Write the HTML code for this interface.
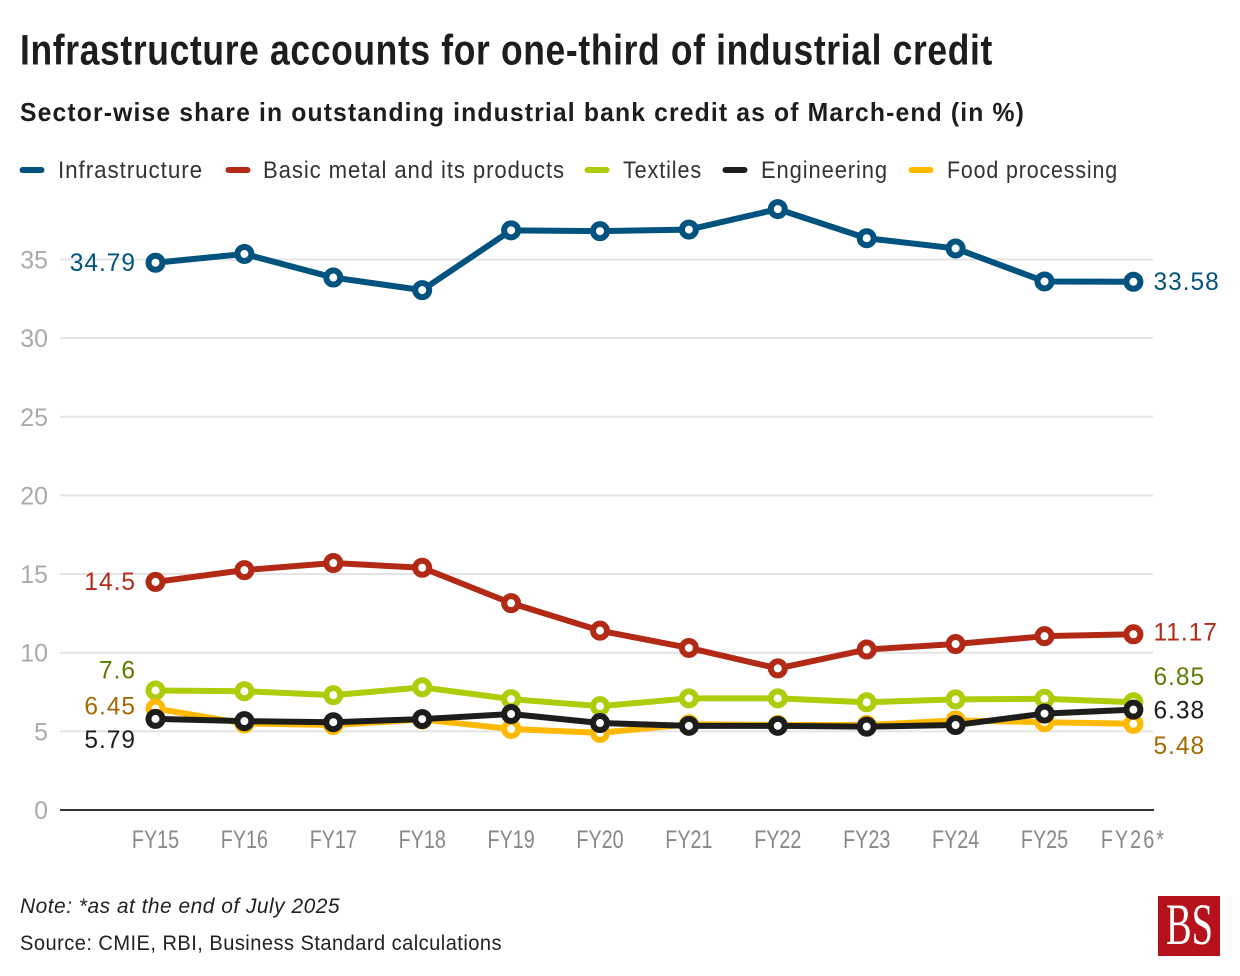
<!DOCTYPE html>
<html lang="en">
<head>
<meta charset="utf-8">
<title>Infrastructure accounts for one-third of industrial credit</title>
<style>
html,body{margin:0;padding:0;background:#fff;width:1240px;height:976px;overflow:hidden}
svg{display:block}
text{font-family:"Liberation Sans",sans-serif}
</style>
</head>
<body>
<svg id="chart" width="1240" height="976" viewBox="0 0 1240 976" xmlns="http://www.w3.org/2000/svg">
  <text x="20" y="64.5" font-size="43" font-weight="700" fill="#1d1d1b" letter-spacing="0.8" textLength="973" lengthAdjust="spacingAndGlyphs">Infrastructure accounts for one-third of industrial credit</text>
  <text x="20" y="121" font-size="26" font-weight="700" fill="#1d1d1b" letter-spacing="1.2" textLength="1005" lengthAdjust="spacingAndGlyphs">Sector-wise share in outstanding industrial bank credit as of March-end (in %)</text>

  <g font-size="24.5" fill="#333" letter-spacing="1">
    <line x1="22.5" x2="41.5" y1="170" y2="170" stroke="#00527f" stroke-width="6" stroke-linecap="round"/>
    <text x="58" y="178" textLength="145" lengthAdjust="spacingAndGlyphs">Infrastructure</text>
    <line x1="228.5" x2="247.5" y1="170" y2="170" stroke="#b22a16" stroke-width="6" stroke-linecap="round"/>
    <text x="263" y="178" textLength="302" lengthAdjust="spacingAndGlyphs">Basic metal and its products</text>
    <line x1="587.5" x2="606.5" y1="170" y2="170" stroke="#adcc0a" stroke-width="6" stroke-linecap="round"/>
    <text x="623" y="178" textLength="79" lengthAdjust="spacingAndGlyphs">Textiles</text>
    <line x1="725.5" x2="744.5" y1="170" y2="170" stroke="#1d1d1b" stroke-width="6" stroke-linecap="round"/>
    <text x="761" y="178" textLength="127" lengthAdjust="spacingAndGlyphs">Engineering</text>
    <line x1="911.5" x2="930.5" y1="170" y2="170" stroke="#ffb900" stroke-width="6" stroke-linecap="round"/>
    <text x="947" y="178" textLength="171" lengthAdjust="spacingAndGlyphs">Food processing</text>
  </g>

  <g id="grid"></g>
  <g id="ylabels"></g>
  <line x1="60" x2="1154" y1="810" y2="810" stroke="#333" stroke-width="2"/>
  <g id="xlabels"></g>
  <g id="series"></g>
  <g id="valueLabels"></g>

  <text x="20" y="913" font-size="21.5" font-style="italic" fill="#222" letter-spacing="0.5" textLength="320" lengthAdjust="spacingAndGlyphs">Note: *as at the end of July 2025</text>
  <text x="20" y="950" font-size="21.5" fill="#222" letter-spacing="0.5" textLength="482" lengthAdjust="spacingAndGlyphs">Source: CMIE, RBI, Business Standard calculations</text>

  <g>
    <rect x="1158" y="896" width="62" height="60" fill="#b5121b"/>
    <text x="1166" y="944" font-size="58" font-weight="400" fill="#fff" textLength="47" lengthAdjust="spacingAndGlyphs" style="font-family:'Liberation Serif',serif">BS</text>
  </g>
</svg>

<script>
const categories = ['FY15','FY16','FY17','FY18','FY19','FY20','FY21','FY22','FY23','FY24','FY25','FY26*'];
const yTicks = [0,5,10,15,20,25,30,35];
const infrastructure = [34.79,35.35,33.85,33.05,36.85,36.8,36.9,38.2,36.35,35.7,33.6,33.58];
const basicMetal = [14.5,15.25,15.7,15.4,13.15,11.4,10.3,9.0,10.2,10.55,11.05,11.17];
const textiles = [7.6,7.55,7.3,7.8,7.05,6.6,7.1,7.1,6.85,7.03,7.07,6.85];
const foodProcessing = [6.45,5.5,5.4,5.75,5.15,4.9,5.45,5.4,5.4,5.7,5.58,5.48];
const engineering = [5.79,5.65,5.58,5.78,6.1,5.53,5.35,5.35,5.3,5.4,6.13,6.38];

const SVG_NS = 'http://www.w3.org/2000/svg';
const xStart = 155.5, xStep = 88.9;
const yZero = 810, yPerUnit = 15.73;
function xScale(i){ return xStart + i * xStep; }
function yScale(v){ return yZero - v * yPerUnit; }
function make(tag, parent){
  const el = document.createElementNS(SVG_NS, tag);
  parent.appendChild(el);
  return el;
}

const gridGroup = document.getElementById('grid');
const yLabelGroup = document.getElementById('ylabels');
yTicks.forEach(function(t){
  if (t !== 0) {
    const g = make('line', gridGroup);
    
    
    g.setAttribute('x1', 60);
    g.setAttribute('x2', 1153);
    g.setAttribute('y1', yScale(t));
    g.setAttribute('y2', yScale(t));
    g.setAttribute('stroke', '#e4e4e4');
    g.setAttribute('stroke-width', 2);
  }
  const l = make('text', yLabelGroup);
  
  
  l.setAttribute('x', 48);
  l.setAttribute('y', yScale(t) + 9);
  l.setAttribute('text-anchor', 'end');
  l.setAttribute('font-size', 25);
  l.setAttribute('fill', '#aaaaaa');
  l.textContent = t;
});

const xLabelGroup = document.getElementById('xlabels');
categories.forEach(function(c, i){
  const l = make('text', xLabelGroup);
  
  
  l.setAttribute('transform', 'translate(' + xScale(i) + ',848) scale(0.79,1)');
  l.setAttribute('text-anchor', 'middle');
  l.setAttribute('font-size', 25);
  l.setAttribute('fill', '#888888');
  l.setAttribute('letter-spacing', c.indexOf('*') >= 0 ? 2.6 : 0);
  l.textContent = c;
});

const seriesList = [
  {key:'infrastructure', values:infrastructure, color:'#00527f', labelColor:'#00527f', firstNudge:-1, lastNudge:-1},
  {key:'basic-metal', values:basicMetal, color:'#b22a16', labelColor:'#b22a16', firstNudge:-1, lastNudge:-3},
  {key:'textiles', values:textiles, color:'#adcc0a', labelColor:'#5a7d00', firstNudge:-21, lastNudge:-26},
  {key:'food-processing', values:foodProcessing, color:'#ffb900', labelColor:'#a36a00', firstNudge:-3, lastNudge:21},
  {key:'engineering', values:engineering, color:'#1d1d1b', labelColor:'#1d1d1b', firstNudge:20, lastNudge:0}
];

const seriesGroup = document.getElementById('series');
const valueGroup = document.getElementById('valueLabels');
seriesList.forEach(function(s){
  const group = make('g', seriesGroup);
  
  

  const line = make('polyline', group);
  
  
  line.setAttribute('points', s.values.map(function(v, i){ return xScale(i) + ',' + yScale(v); }).join(' '));
  line.setAttribute('fill', 'none');
  line.setAttribute('stroke', s.color);
  line.setAttribute('stroke-width', 6);
  line.setAttribute('stroke-linejoin', 'round');

  s.values.forEach(function(v, i){
    const pt = make('circle', group);
    
    
    pt.setAttribute('cx', xScale(i));
    pt.setAttribute('cy', yScale(v));
    pt.setAttribute('r', 7);
    pt.setAttribute('fill', '#ffffff');
    pt.setAttribute('stroke', s.color);
    pt.setAttribute('stroke-width', 6);
  });

  const lastIndex = s.values.length - 1;

  const first = make('text', valueGroup);
  
  
  first.setAttribute('transform', 'translate(136,' + (yScale(s.values[0]) + 9 + s.firstNudge) + ') scale(0.98,1)');
  first.setAttribute('text-anchor', 'end');
  first.setAttribute('font-size', 25);
  first.setAttribute('letter-spacing', 1);
  first.setAttribute('fill', s.labelColor);
  first.textContent = String(s.values[0]);

  const last = make('text', valueGroup);
  
  
  last.setAttribute('transform', 'translate(1153.5,' + (yScale(s.values[lastIndex]) + 9 + s.lastNudge) + ') scale(0.98,1)');
  last.setAttribute('font-size', 25);
  last.setAttribute('letter-spacing', 1);
  last.setAttribute('fill', s.labelColor);
  last.textContent = String(s.values[lastIndex]);
});
</script>
</body>
</html>
